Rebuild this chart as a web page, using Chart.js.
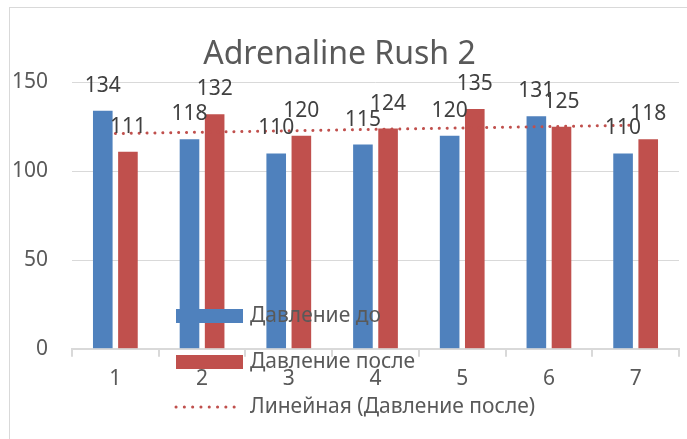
<!DOCTYPE html>
<html>
<head>
<meta charset="utf-8">
<script src="https://cdn.jsdelivr.net/npm/chart.js@4"></script>
<style>
html,body{margin:0;padding:0;background:#fff;overflow:hidden;}
canvas{display:block;}
</style>
</head>
<body>
<canvas id="c" width="687" height="439"></canvas>
<script>
const categories = ['1', '2', '3', '4', '5', '6', '7'];
const pressureBefore = [134, 118, 110, 115, 120, 131, 110];
const pressureAfter = [111, 132, 120, 124, 135, 125, 118];
const trendAfter = [121.2, null, null, null, null, null, 125.9];
const yTickValues = [0, 50, 100, 150];
const seriesNames = ['Давление до', 'Давление после', 'Линейная (Давление после)'];
const titleText = 'Adrenaline Rush 2';

const FONT = "'Noto Sans', sans-serif";
const BLUE = '#4F81BD';
const RED = '#C0504D';
const GRID = '#D9D9D9';
const TEXT = '#595959';
const FS = 21;

const borderPlugin = {
  id: 'borderPlugin',
  beforeDraw(chart) {
    const ctx = chart.ctx;
    ctx.save();
    ctx.fillStyle = '#fff';
    ctx.fillRect(0, 0, chart.width, chart.height);
    ctx.strokeStyle = GRID;
    ctx.lineWidth = 1;
    ctx.strokeRect(9.5, 7.5, chart.width + 20, chart.height + 20);
    ctx.restore();
  }
};

const labelPlugin = {
  id: 'labelPlugin',
  afterDatasetsDraw(chart) {
    const ctx = chart.ctx;
    ctx.save();
    ctx.font = FS + 'px ' + FONT;
    ctx.fillStyle = '#404040';
    ctx.textAlign = 'center';
    ctx.textBaseline = 'middle';
    chart.data.datasets.forEach((ds, i) => {
      if (ds.type !== 'bar') return;
      const meta = chart.getDatasetMeta(i);
      meta.data.forEach((el, j) => {
        ctx.fillText(String(ds.data[j]), el.x, el.y - 25);
      });
    });
    ctx.restore();
  }
};

const legendPlugin = {
  id: 'legendPlugin',
  afterDraw(chart) {
    const ctx = chart.ctx;
    const ds = chart.data.datasets;
    ctx.save();
    ctx.font = FS + 'px ' + FONT;
    ctx.textBaseline = 'middle';
    ctx.textAlign = 'left';
    const x0 = 176, w = 67, textX = 250;
    const rows = [316, 362, 407];
    for (let i = 0; i < 2; i++) {
      ctx.fillStyle = ds[i].backgroundColor;
      ctx.fillRect(x0, rows[i] - 7, w, 14);
      ctx.fillStyle = TEXT;
      ctx.fillText(ds[i].label, textX, rows[i]);
    }
    ctx.strokeStyle = ds[2].borderColor;
    ctx.lineWidth = 3;
    ctx.lineCap = 'round';
    ctx.setLineDash([0.1, 8.2]);
    ctx.beginPath();
    ctx.moveTo(x0, rows[2]);
    ctx.lineTo(x0 + w - 1, rows[2]);
    ctx.stroke();
    ctx.setLineDash([]);
    ctx.fillStyle = TEXT;
    ctx.fillText(ds[2].label, textX, rows[2]);
    ctx.restore();
  }
};

new Chart(document.getElementById('c'), {
  data: {
    labels: categories,
    datasets: [
      {
        type: 'bar',
        label: seriesNames[0],
        data: pressureBefore,
        backgroundColor: BLUE,
        categoryPercentage: 0.58,
        barPercentage: 0.78,
        order: 2
      },
      {
        type: 'bar',
        label: seriesNames[1],
        data: pressureAfter,
        backgroundColor: RED,
        categoryPercentage: 0.58,
        barPercentage: 0.78,
        order: 2
      },
      {
        type: 'line',
        label: seriesNames[2],
        data: trendAfter,
        spanGaps: true,
        borderColor: RED,
        backgroundColor: RED,
        borderWidth: 3,
        borderCapStyle: 'round',
        borderDash: [0.1, 7.8],
        pointRadius: 0,
        pointHoverRadius: 0,
        fill: false,
        tension: 0,
        order: 0
      }
    ]
  },
  options: {
    responsive: false,
    animation: false,
    events: [],
    layout: { padding: { left: 0, right: 8, top: 0, bottom: 37 } },
    plugins: {
      legend: { display: false },
      tooltip: { enabled: false },
      title: {
        display: true,
        text: titleText,
        color: TEXT,
        font: { family: FONT, size: 32, weight: 'normal' },
        padding: { top: 36, bottom: 8 }
      }
    },
    scales: {
      x: {
        offset: true,
        grid: {
          offset: true,
          drawOnChartArea: false,
          drawTicks: true,
          tickLength: 8,
          color: GRID,
          lineWidth: 2
        },
        border: { color: GRID, width: 2 },
        ticks: {
          color: TEXT,
          font: { family: FONT, size: FS },
          padding: 10,
          maxRotation: 0
        }
      },
      y: {
        min: 0,
        max: 150,
        afterBuildTicks(scale) {
          scale.ticks = yTickValues.map(v => ({ value: v }));
        },
        afterFit(scale) { scale.width = 72; },
        grid: { color: GRID, lineWidth: 1, drawTicks: false },
        border: { display: false },
        ticks: {
          color: TEXT,
          font: { family: FONT, size: FS },
          padding: 24
        }
      }
    }
  },
  plugins: [borderPlugin, labelPlugin, legendPlugin]
});
</script>
</body>
</html>
